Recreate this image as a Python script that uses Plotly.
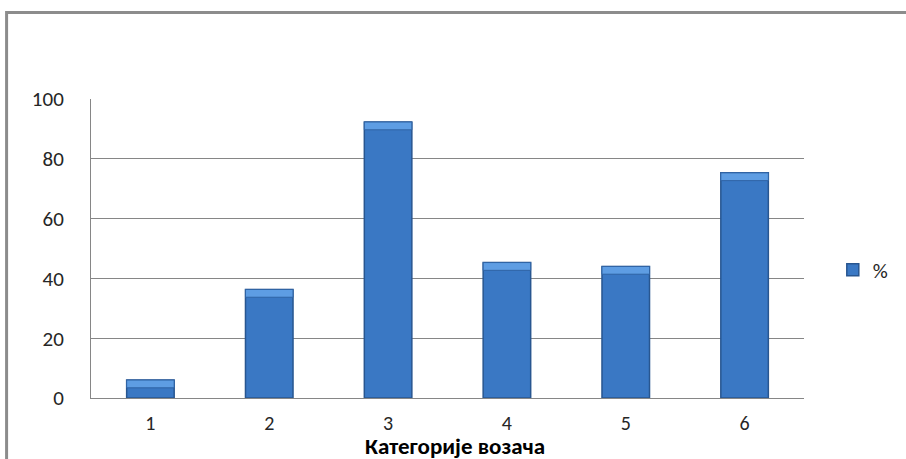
import plotly.graph_objects as go

# Driver categories and their share (%)
categories = ["1", "2", "3", "4", "5", "6"]
percent = [6, 36.3, 92.3, 45.3, 44, 75.3]
y_ticks = [0, 20, 40, 60, 80, 100]

W, H = 906, 459
L, R, T, B = 91, 97, 99, 61
pw, ph = W - L - R, H - T - B
CAP = 2.6  # height of the lighter bevel band on top of each bar, in axis units


def px_x(px):
    return (px - L) / pw


def px_y(py):
    return (H - B - py) / ph


fig = go.Figure()
fig.add_trace(go.Bar(
    x=categories, y=percent, name="%",
    marker=dict(color="#3A78C4", line=dict(color="#285690", width=1.5)),
))
# lighter bevel band along the top of each bar
fig.add_trace(go.Bar(
    x=categories, y=[CAP] * len(percent), base=[v - CAP for v in percent],
    showlegend=False, hoverinfo="skip",
    marker=dict(color="#5E9DE3", line=dict(color="#2F63A4", width=1)),
))

fig.update_layout(
    width=W, height=H,
    margin=dict(l=L, r=R, t=T, b=B),
    paper_bgcolor="white", plot_bgcolor="white",
    barmode="overlay",
    bargap=0.6,
    font=dict(family="Carlito, Lato, sans-serif", size=21, color="#262626"),
    showlegend=True,
    legend=dict(x=px_x(838), y=px_y(270), yanchor="middle", xanchor="left",
                font=dict(size=21), bgcolor="rgba(0,0,0,0)"),
    xaxis=dict(showgrid=False, showline=True, linecolor="#868686", linewidth=1,
               ticks="", tickfont=dict(size=20), ticklabelstandoff=7,
               automargin=False),
    yaxis=dict(range=[0, 100], tickvals=y_ticks, showgrid=True,
               gridcolor="#868686", gridwidth=1, showline=True,
               linecolor="#868686", linewidth=1, ticks="", zeroline=False,
               ticklabelstandoff=22, tickfont=dict(size=21), automargin=False),
    annotations=[dict(text="<b>Категорије возача</b>", xref="paper", yref="paper",
                      x=px_x(458), y=px_y(446), xanchor="center", yanchor="middle",
                      showarrow=False, borderpad=0,
                      font=dict(size=23, color="#000000"))],
    shapes=[dict(type="rect", xref="paper", yref="paper",
                 x0=px_x(6), x1=px_x(1200), y0=px_y(12.5), y1=px_y(800),
                 line=dict(color="#8C8C8C", width=3), layer="above")],
)

fig.write_html("out.html")
